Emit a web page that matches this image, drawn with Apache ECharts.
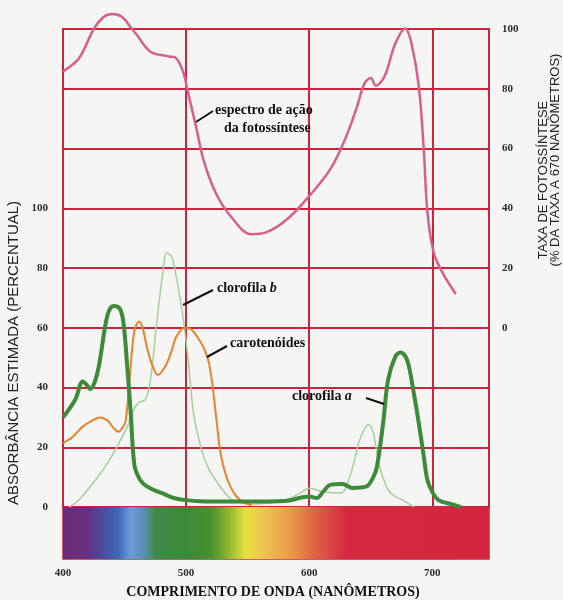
<!DOCTYPE html>
<html>
<head>
<meta charset="utf-8">
<script src="https://cdn.jsdelivr.net/npm/echarts@6/dist/echarts.min.js"></script>
<style>
  html, body { margin: 0; padding: 0; background: #f5f5f3; }
  #chart-container { width: 563px; height: 600px; }
</style>
</head>
<body>
<div id="chart-container"></div>
<script>
// wavelength (nm) vs. value
var actionSpectrum = [[400,85.8],[413,90.2],[425,100],[433,104],[440,105],[448,104],[456,100],[460,98],[471,92.4],[486,90.8],[492,90.2],[498,85.2],[501,79.7],[508,67.4],[514,56.3],[524,45.2],[536,37.4],[553,31.3],[565,31.9],[582,36.3],[600,44.1],[617,53],[629,63],[638,73],[645,81.9],[650,83.6],[654,81],[661,84],[670,95.2],[678,100.2],[683,95.2],[689,80.8],[693,59.7],[696,38.6],[701,25.3],[708,18.6],[719,11.3]];
var chlorophyllA = [[400,30],[410,36],[416,42],[419,41],[422,39.5],[428,45],[436,64],[441,67.3],[446,66.5],[449,62],[452,48],[455,31.5],[458,14],[462,9.5],[466,7.5],[472,6],[480,4.7],[490,3],[500,2.3],[520,1.8],[550,1.8],[580,2],[600,3.5],[606,3],[612,5.5],[617,7.4],[627,7.7],[635,6.4],[646,6.8],[652,10],[655,13.5],[660,28],[664,42.5],[670,50.4],[674,51.7],[678,50.5],[681,47],[685,38],[689,28],[693,17],[696,9],[700,5],[705,2.3],[715,1],[723,0]];
var chlorophyllB = [[405,0],[412,2],[422,6.8],[436,14.6],[451,25.8],[458,33],[462,35],[467,36],[471,42.5],[477,65],[481,78],[484,85],[488,84],[492,77],[495,70],[498,62],[502,48],[506,31.5],[512,20],[518,13],[524,9],[531,5],[538,2.3],[553,1],[570,1.5],[581,2.3],[592,4.5],[600,6.3],[611,5.1],[626,4.7],[632,9],[637,16],[641,22.5],[648,27.5],[652,24.8],[655,18],[658,12.4],[664,5.7],[670,3.5],[676,2.3],[685,0]];
var carotenoids = [[400,21.4],[408,23.5],[416,26.9],[424,29],[430,30],[436,29],[441,26.5],[445,25.2],[449,27],[451,29],[454,42.5],[458,59],[462,62.1],[465,59.5],[468,53.7],[472,48],[477,44.2],[483,47],[488,52],[492,57],[499,60],[504,59.5],[509,57],[514,53.5],[518,49],[521,42],[524,31.5],[528,18],[532,11],[536,6.8],[540,4],[544,2.3],[553,0.5]];

var xTicks = [400, 500, 600, 700];
var leftTicks = [0, 20, 40, 60, 80, 100];
var rightTicks = [0, 20, 40, 60, 80, 100];

// visible spectrum band under the plot
var specNm = [400, 420, 432, 445, 455, 465, 475, 500, 520, 535, 548, 565, 585, 605, 630, 746];
var specColors = ['#6a2c78', '#6a3080', '#4a4c9c', '#3c6ab8', '#6f9bd6', '#5a8fb8', '#3f8a48', '#3a8a38', '#4a9030', '#8fb830', '#e6e040', '#eec050', '#eb9a48', '#e06045', '#d42a40', '#d4243f'];

var red = '#c9243c';
var tickFont = { color: '#2a2a2a', fontFamily: 'Liberation Serif', fontWeight: 'bold', fontSize: 11 };

var dom = document.getElementById('chart-container');
var myChart = echarts.init(dom, null, { renderer: 'canvas' });

var stops = specNm.map(function (nm, i) {
  return { offset: (nm - 400) / (746 - 400), color: specColors[i] };
});

var option = {
  backgroundColor: '#f5f5f3',
  animation: false,
  grid: [
    { left: 63, right: 74, top: 29, height: 478, show: true, borderColor: red, borderWidth: 2, backgroundColor: 'transparent' },
    { left: 63, right: 74, top: 507, height: 52, show: true, borderColor: red, borderWidth: 1.5 }
  ],
  xAxis: [
    {
      gridIndex: 0, type: 'value', min: 400, max: 746, interval: 100,
      axisLine: { show: false }, axisTick: { show: false }, axisLabel: { show: false },
      splitLine: { show: true, lineStyle: { color: red, width: 2 } }
    },
    {
      gridIndex: 1, type: 'value', min: 400, max: 746, interval: 100,
      axisLine: { show: false }, axisTick: { show: false }, splitLine: { show: false },
      axisLabel: Object.assign({ margin: 9, formatter: function (v) { return xTicks.indexOf(v) >= 0 ? v : ''; } }, tickFont)
    }
  ],
  yAxis: [
    {
      gridIndex: 0, type: 'value', min: 0, max: 160, interval: 20, position: 'left',
      axisLine: { show: false }, axisTick: { show: false },
      axisLabel: Object.assign({ margin: 15, formatter: function (v) { return leftTicks.indexOf(v) >= 0 ? v : ''; } }, tickFont),
      splitLine: { show: true, lineStyle: { color: red, width: 2 } }
    },
    {
      gridIndex: 0, type: 'value', min: -60, max: 100, interval: 20, position: 'right',
      axisLine: { show: false }, axisTick: { show: false }, splitLine: { show: false },
      axisLabel: Object.assign({ margin: 13, formatter: function (v) { return rightTicks.indexOf(v) >= 0 ? v : ''; } }, tickFont)
    },
    { gridIndex: 1, type: 'value', min: 0, max: 1, show: false }
  ],
  series: [
    {
      name: 'espectro', type: 'custom', xAxisIndex: 1, yAxisIndex: 2,
      data: [[400, 746]],
      renderItem: function (params, api) {
        var p0 = api.coord([api.value(0), 1]);
        var p1 = api.coord([api.value(1), 0]);
        return {
          type: 'rect',
          shape: { x: p0[0], y: p0[1], width: p1[0] - p0[0], height: p1[1] - p0[1] },
          style: { fill: new echarts.graphic.LinearGradient(0, 0, 1, 0, stops) }
        };
      }
    },
    {
      name: 'clorofila b', type: 'line', xAxisIndex: 0, yAxisIndex: 0,
      data: chlorophyllB, showSymbol: false, smooth: 0.35,
      lineStyle: { color: '#a6cf9c', width: 1.5 }
    },
    {
      name: 'carotenóides', type: 'line', xAxisIndex: 0, yAxisIndex: 0,
      data: carotenoids, showSymbol: false, smooth: 0.35,
      lineStyle: { color: '#e8822e', width: 2 }
    },
    {
      name: 'clorofila a', type: 'line', xAxisIndex: 0, yAxisIndex: 0,
      data: chlorophyllA, showSymbol: false, smooth: 0.35,
      lineStyle: { color: '#3d8b3a', width: 4 }
    },
    {
      name: 'espectro de ação', type: 'line', xAxisIndex: 0, yAxisIndex: 1,
      data: actionSpectrum, showSymbol: false, smooth: 0.35, clip: false,
      lineStyle: { color: '#d6608c', width: 2.5 }
    }
  ],
  graphic: []
};

var serifBold = 'bold 14px "Liberation Serif"';
function label(x, y, text) {
  return { type: 'text', x: x, y: y, z: 100, style: { text: text, font: serifBold, fill: '#111', align: 'left', verticalAlign: 'middle' } };
}
function italicLabel(x, y, word, letter) {
  return {
    type: 'text', x: x, y: y, z: 100,
    style: {
      text: '{n|' + word + '} {i|' + letter + '}', align: 'left', verticalAlign: 'middle',
      rich: {
        n: { font: serifBold, fill: '#111' },
        i: { font: 'italic bold 14px "Liberation Serif"', fill: '#111' }
      }
    }
  };
}
function leader(x1, y1, x2, y2) {
  return { type: 'line', z: 100, shape: { x1: x1, y1: y1, x2: x2, y2: y2 }, style: { stroke: '#111', lineWidth: 2 } };
}

option.graphic = [
  label(215, 110, 'espectro de ação'),
  label(224, 128, 'da fotossíntese'),
  leader(196, 122, 213, 111),
  italicLabel(217, 288, 'clorofila', 'b'),
  leader(183, 305, 213, 290),
  label(230, 343, 'carotenóides'),
  leader(207, 357, 227, 346),
  italicLabel(292, 396, 'clorofila', 'a'),
  leader(366, 398, 384, 404),
  {
    type: 'text', x: 14, y: 353, rotation: Math.PI / 2, z: 100,
    style: { text: 'ABSORBÂNCIA ESTIMADA (PERCENTUAL)', font: '15px "Liberation Sans"', fill: '#222', align: 'center', verticalAlign: 'middle' }
  },
  {
    type: 'text', x: 543, y: 180, rotation: Math.PI / 2, z: 100,
    style: { text: 'TAXA DE FOTOSSÍNTESE', font: '13px "Liberation Sans"', fill: '#222', align: 'center', verticalAlign: 'middle' }
  },
  {
    type: 'text', x: 555, y: 160, rotation: Math.PI / 2, z: 100,
    style: { text: '(% DA TAXA A 670 NANÔMETROS)', font: '13px "Liberation Sans"', fill: '#222', align: 'center', verticalAlign: 'middle' }
  },
  {
    type: 'text', x: 273, y: 592, z: 100,
    style: { text: 'COMPRIMENTO DE ONDA (NANÔMETROS)', font: 'bold 14px "Liberation Serif"', fill: '#111', align: 'center', verticalAlign: 'middle' }
  }
];

if (option && typeof option === 'object') {
  myChart.setOption(option);
}

window.addEventListener('resize', myChart.resize);
</script>
</body>
</html>
